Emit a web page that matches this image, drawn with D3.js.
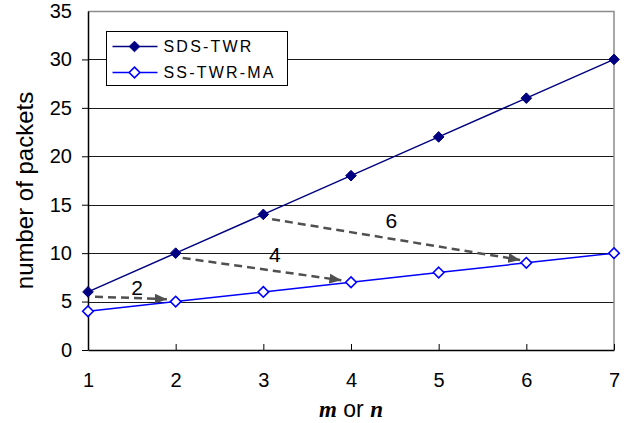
<!DOCTYPE html>
<html>
<head>
<meta charset="utf-8">
<script src="https://cdn.jsdelivr.net/npm/d3@7"></script>
<style>
body { margin: 0; background: #fff; }
text { font-family: "Liberation Sans", Arial, sans-serif; fill: #000; }
</style>
</head>
<body>
<svg id="chart" width="640" height="423"></svg>
<script>
// data
var xValues = [1, 2, 3, 4, 5, 6, 7];
var sdsTwr = [6, 10, 14, 18, 22, 26, 30];
var ssTwrMa = [4, 5, 6, 7, 8, 9, 10];
var yTicks = [0, 5, 10, 15, 20, 25, 30, 35];
var seriesNames = ["SDS-TWR", "SS-TWR-MA"];

// dashed arrows: start, end (data units) and label
var arrowFrom = [[1.08, 5.5], [2.08, 9.5], [3.1, 13.5]];
var arrowTo = [[1.9, 5.25], [3.89, 7.2], [5.93, 9.3]];
var arrowLabels = ["2", "4", "6"];
var labelPos = [[1.56, 6.4], [3.13, 9.8], [4.46, 13.4]];

var svg = d3.select("#chart"),
    margin = {top: 11, right: 26, bottom: 73, left: 88},
    width = +svg.attr("width") - margin.left - margin.right,
    height = +svg.attr("height") - margin.top - margin.bottom,
    g = svg.append("g").attr("transform", "translate(" + margin.left + "," + margin.top + ")");

var x = d3.scaleLinear().domain([1, 7]).range([0, width]);
var y = d3.scaleLinear().domain([0, 35]).range([height, 0]);

// gridlines
g.selectAll(".grid")
  .data(yTicks.filter(function(d) { return d > 0 && d < 35; }))
  .enter().append("line")
    .attr("x1", 0).attr("x2", width)
    .attr("y1", function(d) { return Math.round(y(d)) + 0.5; })
    .attr("y2", function(d) { return Math.round(y(d)) + 0.5; })
    .attr("stroke", "#1a1a1a").attr("stroke-width", 1);

// top and right border
g.append("path")
  .attr("d", "M0," + 0.5 + "H" + width + "V" + height)
  .attr("fill", "none").attr("stroke", "#8c8c8c").attr("stroke-width", 1.5);

// x axis, ticks point inward
var xAxis = g.append("g")
  .attr("transform", "translate(0," + height + ")")
  .call(d3.axisBottom(x).tickValues(xValues).tickFormat(d3.format("d"))
    .tickSizeInner(-6).tickSizeOuter(0).tickPadding(23));
xAxis.select(".domain").attr("stroke", "#000").attr("stroke-width", 1.5);
xAxis.selectAll("text").style("font-size", "20px").style("font-family", "Liberation Sans, Arial, sans-serif");

var yAxis = g.append("g")
  .call(d3.axisLeft(y).tickValues(yTicks).tickSizeInner(6).tickSizeOuter(0).tickPadding(10));
yAxis.select(".domain").attr("stroke", "#000").attr("stroke-width", 1.5);
yAxis.selectAll("text").style("font-size", "20px").style("font-family", "Liberation Sans, Arial, sans-serif");
yAxis.selectAll(".tick line").filter(function(d) { return d == 35; }).remove();

// axis titles
svg.append("text")
  .attr("transform", "translate(33," + (margin.top + height / 2 + 10) + ") rotate(-90)")
  .attr("text-anchor", "middle")
  .style("font-size", "24px")
  .text("number of packets");

var xt = svg.append("text")
  .attr("x", margin.left + width / 2)
  .attr("y", 417)
  .attr("text-anchor", "middle")
  .style("font-size", "23px");
xt.append("tspan").style("font-family", "Liberation Serif, serif").style("font-style", "italic").style("font-weight", "bold").text("m");
xt.append("tspan").text(" or ");
xt.append("tspan").style("font-family", "Liberation Serif, serif").style("font-style", "italic").style("font-weight", "bold").text("n");

// arrows
svg.append("defs").append("marker")
  .attr("id", "head")
  .attr("viewBox", "0 0 12 10")
  .attr("refX", 12).attr("refY", 5)
  .attr("markerWidth", 12).attr("markerHeight", 10)
  .attr("markerUnits", "userSpaceOnUse")
  .attr("orient", "auto")
  .append("path")
    .attr("d", "M0,0L12,5L0,10Z")
    .attr("fill", "#505050");

g.selectAll(".arrow")
  .data(arrowFrom)
  .enter().append("line")
    .attr("class", "arrow")
    .attr("x1", function(d) { return x(d[0]); })
    .attr("y1", function(d) { return y(d[1]); })
    .attr("x2", function(d, i) { return x(arrowTo[i][0]); })
    .attr("y2", function(d, i) { return y(arrowTo[i][1]); })
    .attr("stroke", "#505050")
    .attr("stroke-width", 2.5)
    .attr("stroke-dasharray", "8,5")
    .attr("marker-end", "url(#head)");

g.selectAll(".alabel")
  .data(arrowLabels)
  .enter().append("text")
    .attr("x", function(d, i) { return x(labelPos[i][0]); })
    .attr("y", function(d, i) { return y(labelPos[i][1]); })
    .attr("dy", "0.35em")
    .attr("text-anchor", "middle")
    .style("font-size", "21px")
    .text(function(d) { return d; });

// series
var line = d3.line()
  .x(function(d, i) { return x(xValues[i]); })
  .y(function(d) { return y(d); });

var diamond = d3.symbol().type(d3.symbolDiamond2).size(72);

g.append("path").datum(ssTwrMa)
  .attr("d", line).attr("fill", "none").attr("stroke", "#0000ff").attr("stroke-width", 1.5);
g.append("path").datum(sdsTwr)
  .attr("d", line).attr("fill", "none").attr("stroke", "#000080").attr("stroke-width", 1.5);

g.selectAll(".m1").data(sdsTwr).enter().append("path")
  .attr("transform", function(d, i) { return "translate(" + x(xValues[i]) + "," + y(d) + ")"; })
  .attr("d", diamond).attr("fill", "#000080").attr("stroke", "#000080").attr("stroke-width", 1);

g.selectAll(".m2").data(ssTwrMa).enter().append("path")
  .attr("transform", function(d, i) { return "translate(" + x(xValues[i]) + "," + y(d) + ")"; })
  .attr("d", diamond).attr("fill", "#fff").attr("stroke", "#0000ff").attr("stroke-width", 1.6);

// legend
var legend = svg.append("g").attr("transform", "translate(106.5,31.5)");
legend.append("rect").attr("width", 181).attr("height", 54)
  .attr("fill", "#fff").attr("stroke", "#000").attr("stroke-width", 1);
var legColors = ["#000080", "#0000ff"];
var legFill = ["#000080", "#fff"];
seriesNames.forEach(function(name, i) {
  var row = legend.append("g").attr("transform", "translate(0," + (15 + i * 26) + ")");
  row.append("line").attr("x1", 6).attr("x2", 51).attr("stroke", legColors[i]).attr("stroke-width", 1.5);
  row.append("path").attr("transform", "translate(28,0)").attr("d", diamond)
    .attr("fill", legFill[i]).attr("stroke", legColors[i]).attr("stroke-width", i ? 1.6 : 1);
  row.append("text").attr("x", 57).attr("dy", "0.36em")
    .style("font-size", "16px").style("letter-spacing", "2.2px")
    .text(name);
});
</script>
</body>
</html>
